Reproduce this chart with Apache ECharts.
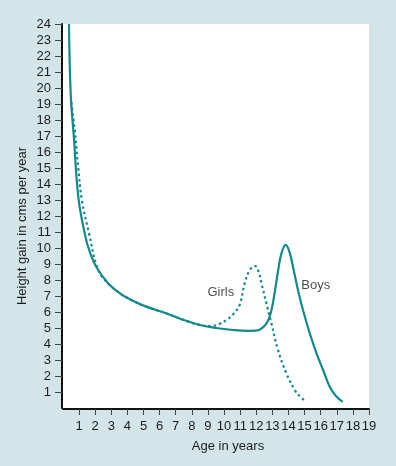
<!DOCTYPE html>
<html>
<head>
<meta charset="utf-8">
<script src="https://cdn.jsdelivr.net/npm/echarts@6/dist/echarts.min.js"></script>
<style>
html,body{margin:0;padding:0;background:#d4e5e9;}
#c{width:396px;height:466px;}
</style>
</head>
<body>
<div id="c"></div>
<script>
const xTicks = [1,2,3,4,5,6,7,8,9,10,11,12,13,14,15,16,17,18,19];
const yTicks = [1,2,3,4,5,6,7,8,9,10,11,12,13,14,15,16,17,18,19,20,21,22,23,24];

const boysAge = [0.37,0.48,0.67,0.95,1.35,1.65,2.08,2.8,3.53,4.25,5.0,6.4,7.5,8.5,9.5,10.56,11.5,12.0,12.42,12.73,12.94,13.15,13.35,13.56,13.83,14.08,14.28,14.59,14.9,15.32,15.74,16.15,16.56,16.95,17.37];
const boysGain = [24,19.6,17.0,13.2,10.9,9.8,8.8,7.8,7.17,6.75,6.4,5.92,5.5,5.19,5.0,4.875,4.82,4.83,5.04,5.45,6.1,7.25,8.55,9.65,10.19,9.7,8.83,7.375,6.125,4.67,3.42,2.375,1.33,0.75,0.38];

const girlsAge = [0.52,0.75,0.94,1.17,1.62,2.12,2.6,3.53,4.25,5.0,6.4,7.5,8.5,9.2,9.7,10.15,10.6,10.97,11.28,11.6,11.92,12.15,12.32,12.63,12.94,13.35,13.87,14.39,14.75,15.12];
const girlsGain = [19.1,17.17,15.08,13,10.9,8.8,8.0,7.17,6.75,6.4,5.92,5.5,5.19,5.12,5.25,5.5,5.9,6.45,7.8,8.63,8.875,8.5,7.8,6.54,5.29,3.625,2.17,1.125,0.68,0.4];

const seriesNames = ['Boys','Girls'];
const labelNames = ['Girls','Boys'];
const labelAge = [9.8,15.69];
const labelGain = [7.25,7.69];

const teal = '#13898a';
const textColor = '#1c1c1c';
const font = '"Liberation Sans", Arial, Helvetica, sans-serif';

const chart = echarts.init(document.getElementById('c'), null, {renderer:'canvas'});
chart.setOption({
  animation:false,
  backgroundColor:'#d4e5e9',
  grid:{left:63,right:27,top:24,bottom:58,show:true,backgroundColor:'#ffffff',borderWidth:0,containLabel:false,outerBoundsMode:'none'},
  xAxis:{
    type:'value',min:0,max:19,interval:1,offset:1,
    axisLine:{show:true,onZero:false,lineStyle:{color:'#111',width:2}},
    axisTick:{show:true,customValues:xTicks,length:6,lineStyle:{color:'#444',width:1}},
    axisLabel:{show:true,customValues:xTicks,margin:11,color:textColor,fontSize:13,fontFamily:font},
    splitLine:{show:false}
  },
  yAxis:{
    type:'value',min:0,max:24,interval:1,offset:1,
    axisLine:{show:true,onZero:false,lineStyle:{color:'#111',width:2}},
    axisTick:{show:true,customValues:yTicks,length:7,lineStyle:{color:'#444',width:1}},
    axisLabel:{show:true,customValues:yTicks,margin:11,color:textColor,fontSize:13,fontFamily:font},
    splitLine:{show:false}
  },
  graphic:[
    {type:'text',x:22,y:226,rotation:Math.PI/2,z:10,
     style:{text:'Height gain in cms per year',fill:textColor,font:'13px '+font,align:'center',verticalAlign:'middle'}},
    {type:'text',x:228,y:446,z:10,
     style:{text:'Age in years',fill:textColor,font:'13px '+font,align:'center',verticalAlign:'middle'}}
  ],
  series:[
    {name:seriesNames[0],type:'line',data:boysAge.map((a,i)=>[a,boysGain[i]]),
     showSymbol:false,symbol:'none',smooth:0.4,
     lineStyle:{color:teal,width:2.2},z:3},
    {name:seriesNames[1],type:'line',data:girlsAge.map((a,i)=>[a,girlsGain[i]]),
     showSymbol:false,symbol:'none',smooth:0.4,
     lineStyle:{color:teal,width:2.2,type:[2.5,3]},z:2},
    {type:'scatter',data:labelNames.map((n,i)=>[labelAge[i],labelGain[i],n]),
     symbolSize:1,itemStyle:{color:'rgba(0,0,0,0)'},silent:true,
     label:{show:true,position:'inside',formatter:p=>p.data[2],color:textColor,fontSize:13,fontFamily:font,align:'center',verticalAlign:'middle'}}
  ]
});
</script>
</body>
</html>
